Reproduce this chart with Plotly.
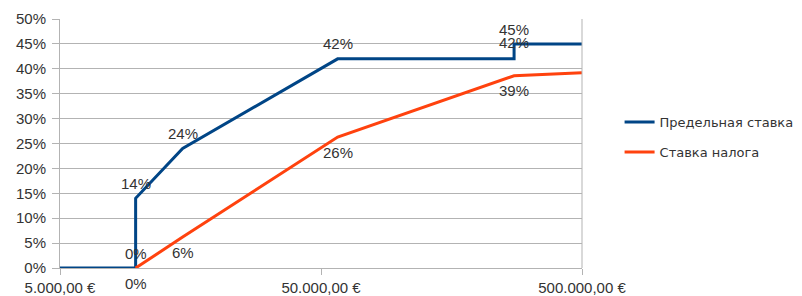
import math
import plotly.graph_objects as go

income = [5000, 9744, 9744, 14753, 57919, 274613, 274613, 500000]
marginal = [0, 0, 14, 24, 42, 42, 45, 45]
marginal_text = ["", "0%", "14%", "24%", "42%", "42%", "45%", ""]

income_avg = [9744, 14753, 57919, 274613, 500000]
average = [0, 6.2, 26.3, 38.6, 39.2]
average_text = ["0%", "6%", "26%", "39%", ""]

x_ticks = [5000, 50000, 500000]
x_ticktext = ["5.000,00 €", "50.000,00 €", "500.000,00 €"]

FONT = "Liberation Sans, Arial, sans-serif"
LEGEND_FONT = "DejaVu Sans, sans-serif"

fig = go.Figure()
fig.add_trace(go.Scatter(
    x=income, y=marginal, mode="lines", name="Предельная ставка",
    line=dict(color="#004586", width=3),
    legendgroup="a", cliponaxis=False,
))
fig.add_trace(go.Scatter(
    x=income_avg, y=average, mode="lines", name="Ставка налога",
    line=dict(color="#ff420e", width=3),
    legendgroup="b", cliponaxis=False,
))

annotations = []
for xv, yv, t in zip(income, marginal, marginal_text):
    if t:
        annotations.append(dict(x=math.log10(xv), y=yv, text=t, showarrow=False,
                                yshift=15, xanchor="center", yanchor="middle",
                                font=dict(family=FONT, size=15, color="#333333")))
for xv, yv, t in zip(income_avg, average, average_text):
    if t:
        annotations.append(dict(x=math.log10(xv), y=yv, text=t, showarrow=False,
                                yshift=-15, xanchor="center", yanchor="middle",
                                font=dict(family=FONT, size=15, color="#333333")))
annotations[4]["yshift"] = 16
annotations[5]["yshift"] = 14

fig.update_layout(
    width=802, height=296,
    margin=dict(l=52, r=228, t=11, b=36),
    plot_bgcolor="white", paper_bgcolor="white",
    font=dict(family=FONT, size=15, color="#333333"),
    showlegend=True,
    legend=dict(x=1.072, xanchor="left", y=0.526, yanchor="middle",
                tracegroupgap=10, font=dict(family=LEGEND_FONT, size=13, color="#333333"),
                bgcolor="rgba(0,0,0,0)"),
    annotations=annotations,
    xaxis=dict(type="log", range=[math.log10(5000), math.log10(500000)],
               tickvals=x_ticks, ticktext=x_ticktext, automargin=False,
               showgrid=False, showline=True, linecolor="#b3b3b3", linewidth=1,
               ticks="outside", ticklen=6, tickcolor="#b3b3b3",
               zeroline=False, mirror=False),
    yaxis=dict(range=[0, 50], dtick=5, ticksuffix="%", automargin=False,
               showgrid=True, gridcolor="#b3b3b3", gridwidth=1,
               showline=True, linecolor="#b3b3b3", linewidth=1,
               ticks="outside", ticklen=7, tickcolor="#b3b3b3",
               ticklabelstandoff=3, zeroline=False),
)
fig.add_shape(type="line", xref="paper", yref="paper", x0=1, x1=1, y0=0, y1=1,
              line=dict(color="#b3b3b3", width=1))

fig.write_html("out.html")
